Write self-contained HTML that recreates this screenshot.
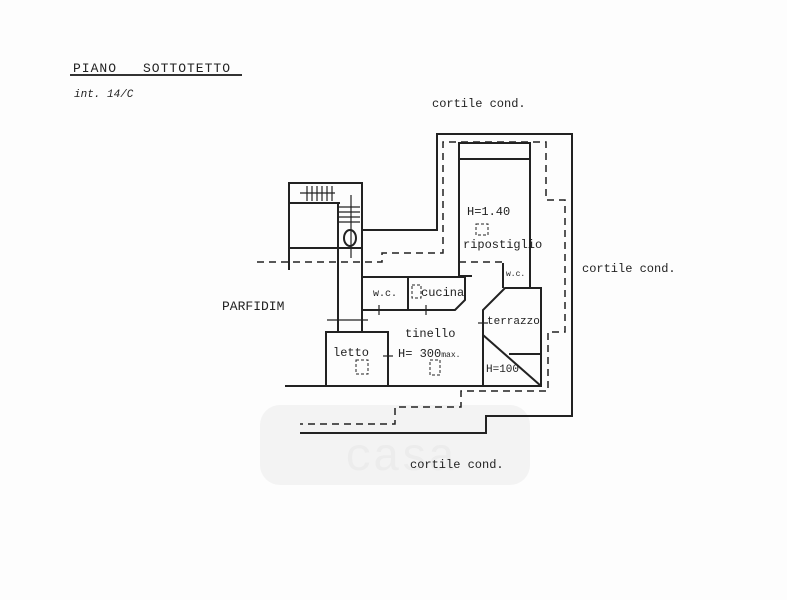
<!DOCTYPE html>
<html><head><style>
body{margin:0;background:#fff;}
svg{display:block;}
text{font-family:"Liberation Mono",monospace;fill:#222;}
</style></head><body>
<svg width="787" height="600" viewBox="0 0 787 600" xmlns="http://www.w3.org/2000/svg">
<rect width="787" height="600" fill="#fdfdfd"/>
<rect x="260" y="405" width="270" height="80" rx="20" fill="#f3f3f3"/>
<text x="345" y="470" font-size="46" font-family="Liberation Sans,sans-serif" style="fill:#ececec">casa</text>
<text x="73" y="72" font-size="13" letter-spacing="1">PIANO</text>
<text x="143" y="72" font-size="13" letter-spacing="1">SOTTOTETTO</text>
<line x1="70" y1="75" x2="242" y2="75" stroke="#333" stroke-width="2"/>
<text x="74" y="97" font-size="11" font-style="italic" font-family="Liberation Sans,sans-serif">int. 14/C</text>
<text x="432" y="107" font-size="12">cortile cond.</text>
<text x="582" y="272" font-size="12">cortile cond.</text>
<text x="410" y="468" font-size="12">cortile cond.</text>
<text x="222" y="310" font-size="13" font-family="Liberation Sans,sans-serif">PARFIDIM</text>
<g fill="none" stroke="#222" stroke-width="2">
<polyline points="362,230 437,230 437,134 572,134 572,416 486,416 486,433 300,433"/>
<line x1="285" y1="386" x2="542" y2="386"/>
<polyline points="289,270 289,183 362,183 362,332"/>
<line x1="289" y1="203" x2="340" y2="203"/>
<line x1="289" y1="248" x2="362" y2="248"/>
<line x1="338" y1="203" x2="338" y2="332"/>
<polyline points="326,386 326,332 388,332 388,386"/>
<polyline points="362,310 362,277 465,277 465,300 455,310 362,310"/>
<line x1="408" y1="277" x2="408" y2="310"/>
<polyline points="459,276 459,143 530,143 530,288"/>
<line x1="459" y1="159" x2="530" y2="159"/>
<line x1="459" y1="276" x2="472" y2="276"/>
<line x1="503" y1="263" x2="503" y2="288"/>
<polyline points="483,386 483,310 505,288 541,288 541,386"/>
<line x1="483" y1="335" x2="541" y2="386"/>
<line x1="509" y1="354" x2="541" y2="354"/>
</g>
<g stroke="#222" stroke-width="1.2">
<line x1="300" y1="193" x2="335" y2="193"/>
<line x1="307" y1="186" x2="307" y2="201"/><line x1="312" y1="186" x2="312" y2="201"/><line x1="317" y1="186" x2="317" y2="201"/><line x1="322" y1="186" x2="322" y2="201"/><line x1="327" y1="186" x2="327" y2="201"/><line x1="332" y1="186" x2="332" y2="201"/>
<line x1="339" y1="207" x2="360" y2="207"/><line x1="339" y1="212" x2="360" y2="212"/><line x1="339" y1="217" x2="360" y2="217"/><line x1="339" y1="222" x2="360" y2="222"/>
<line x1="351" y1="195" x2="351" y2="258"/>
<line x1="327" y1="320" x2="368" y2="320"/>
<line x1="338" y1="315" x2="338" y2="325"/><line x1="362" y1="315" x2="362" y2="325"/>
<line x1="379" y1="305" x2="379" y2="315"/><line x1="426" y1="305" x2="426" y2="315"/>
<line x1="383" y1="356" x2="393" y2="356"/>
<line x1="478" y1="323" x2="488" y2="323"/>
</g>
<ellipse cx="350" cy="238" rx="6" ry="8" fill="none" stroke="#222" stroke-width="2"/>
<g fill="none" stroke="#222" stroke-width="1.5" stroke-dasharray="7,5">
<polyline points="257,262 382,262 382,253 443,253 443,142 546,142 546,200 565,200 565,332 548,332 548,391 461,391 461,407 395,407 395,424 300,424"/>
<line x1="459" y1="262" x2="503" y2="262"/>
<line x1="483" y1="330" x2="483" y2="386"/>
</g>
<g fill="none" stroke="#222" stroke-width="1" stroke-dasharray="3,2">
<rect x="476" y="224" width="12" height="11"/>
<rect x="412" y="285" width="9" height="13"/>
<rect x="356" y="360" width="12" height="14"/>
<rect x="430" y="360" width="10" height="15"/>
</g>
<text x="467" y="215" font-size="12">H=1.40</text>
<text x="463" y="248" font-size="12">ripostiglio</text>
<text x="373" y="296" font-size="10">w.c.</text>
<text x="421" y="296" font-size="12">cucina</text>
<text x="506" y="276" font-size="8">w.c.</text>
<text x="487" y="324" font-size="11">terrazzo</text>
<text x="405" y="337" font-size="12">tinello</text>
<text x="333" y="356" font-size="12">letto</text>
<text x="398" y="357" font-size="12">H= 300<tspan font-size="8">max.</tspan></text>
<text x="486" y="372" font-size="11">H=100</text>
</svg>
</body></html>
